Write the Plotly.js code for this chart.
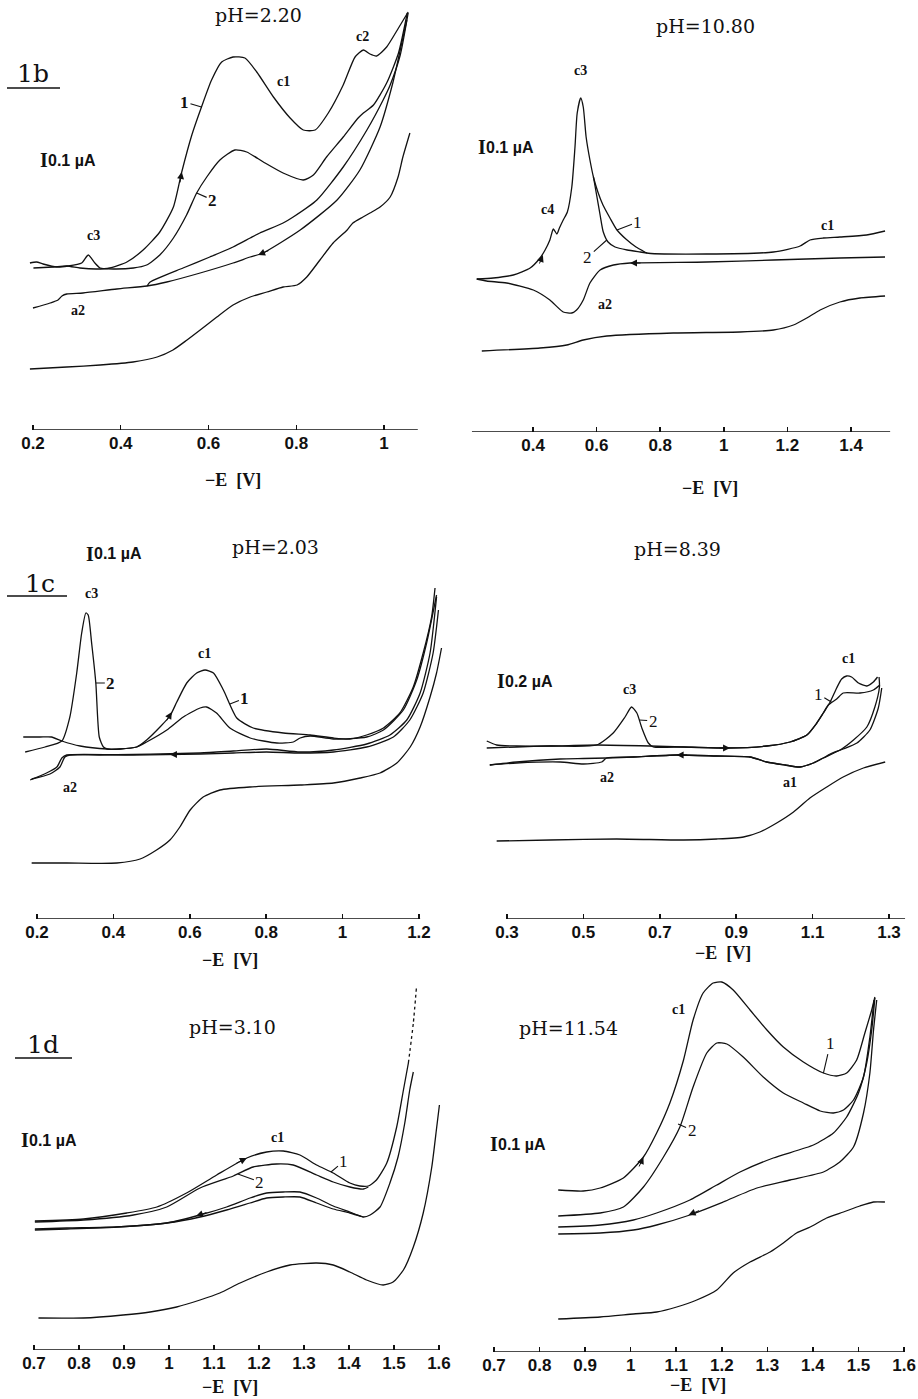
<!DOCTYPE html>
<html><head><meta charset="utf-8">
<script src="https://cdn.plot.ly/plotly-3.0.1.min.js"></script>
<style>html,body{margin:0;padding:0;background:#fff}#chart{width:918px;height:1399px}</style>
</head><body><div id="chart"></div>
<script>
// ---------- Panel 1b, pH = 2.20 ----------
const p1c1E=[0.201,0.246,0.277,0.307,0.345,0.375,0.414,0.451,0.489,0.520,0.539,0.562,0.584,0.607,0.630,0.656,0.683,0.710,0.748,0.786,0.816,0.843,0.873,0.907,0.934,0.953,0.968,0.983,1.006,1.033,1.055];
const p1c1I=[1.62,1.63,1.64,1.62,1.61,1.62,1.68,1.80,1.98,2.23,2.58,2.95,3.23,3.50,3.68,3.73,3.72,3.58,3.33,3.12,3.00,3.00,3.17,3.45,3.73,3.80,3.76,3.74,3.83,4.02,4.18];
const p1c2E=[0.193,0.208,0.223,0.254,0.280,0.311,0.326,0.341,0.353,0.383,0.429,0.459,0.489,0.520,0.550,0.573,0.596,0.626,0.660,0.687,0.725,0.770,0.816,0.839,0.869,0.907,0.941,0.953,0.976,1.006,1.033,1.053];
const p1c2I=[1.67,1.68,1.66,1.63,1.64,1.67,1.75,1.67,1.62,1.61,1.62,1.65,1.75,1.92,2.15,2.37,2.53,2.70,2.80,2.78,2.68,2.57,2.50,2.55,2.73,2.93,3.12,3.17,3.25,3.47,3.77,4.17];
const p1rAE=[1.055,1.037,1.014,0.998,0.961,0.907,0.847,0.793,0.770,0.717,0.695,0.656,0.603,0.542,0.467,0.460];
const p1rAI=[4.17,3.75,3.45,3.30,3.00,2.63,2.30,2.13,2.07,1.97,1.92,1.83,1.73,1.62,1.48,1.44];
const p1rBE=[1.052,1.032,1.020,0.991,0.945,0.893,0.809,0.724,0.695,0.656,0.581,0.505,0.460,0.391,0.314,0.277,0.266,0.257,0.239,0.200];
const p1rBI=[4.10,3.70,3.47,3.03,2.60,2.30,2.00,1.77,1.73,1.67,1.57,1.48,1.44,1.41,1.37,1.36,1.34,1.30,1.27,1.22];
const p1bE=[0.193,0.277,0.353,0.428,0.483,0.519,0.551,0.581,0.619,0.656,0.695,0.733,0.770,0.802,0.824,0.854,0.884,0.916,0.929,0.952,0.968,0.991,1.014,1.032,1.043,1.059];
const p1bI=[0.61,0.63,0.65,0.68,0.73,0.80,0.90,1.00,1.13,1.25,1.33,1.38,1.43,1.45,1.53,1.70,1.87,2.00,2.07,2.13,2.17,2.23,2.33,2.53,2.73,2.97];
const p1Ticks=[0.2,0.4,0.6,0.8,1];
const p1TickText=["0.2","0.4","0.6","0.8","1"];

// ---------- Panel pH = 10.80 ----------
const p2c1E=[0.223,0.275,0.338,0.391,0.422,0.438,0.453,0.464,0.475,0.483,0.495,0.508,0.522,0.532,0.539,0.550,0.558,0.567,0.579,0.590,0.604,0.620,0.642,0.664,0.692,0.724,0.746,0.758,0.946,1.156,1.240,1.271,1.313,1.365,1.449,1.507];
const p2c1I=[1.53,1.54,1.57,1.64,1.74,1.82,1.92,2.03,1.98,2.04,2.12,2.20,2.45,2.85,3.19,3.34,3.25,2.95,2.72,2.55,2.40,2.27,2.14,2.02,1.93,1.85,1.81,1.79,1.78,1.80,1.86,1.92,1.94,1.95,1.97,2.01];
const p2c2E=[0.590,0.600,0.611,0.621,0.636,0.658,0.696,0.737,0.758];
const p2c2I=[2.55,2.37,2.17,2.00,1.90,1.85,1.82,1.80,1.79];
const p2rE=[1.507,1.365,1.156,0.946,0.705,0.653,0.611,0.579,0.558,0.537,0.522,0.495,0.453,0.401,0.317,0.254,0.223];
const p2rI=[1.75,1.74,1.72,1.70,1.69,1.67,1.62,1.49,1.32,1.22,1.19,1.20,1.32,1.42,1.49,1.51,1.53];
const p2bE=[0.239,0.422,0.506,0.558,0.632,0.841,1.051,1.156,1.219,1.261,1.303,1.365,1.428,1.507];
const p2bI=[0.81,0.84,0.87,0.92,0.96,0.99,1.00,1.02,1.07,1.14,1.22,1.30,1.34,1.36];
const p2Ticks=[0.4,0.6,0.8,1,1.2,1.4];
const p2TickText=["0.4","0.6","0.8","1","1.2","1.4"];

// ---------- Panel 1c, pH = 2.03 ----------
const p3c1E=[0.164,0.208,0.238,0.265,0.313,0.384,0.417,0.461,0.487,0.522,0.548,0.566,0.592,0.618,0.640,0.662,0.688,0.723,0.766,0.845,0.915,0.976,1.019,1.063,1.107,1.150,1.185,1.211,1.233,1.242];
const p3c1I=[1.82,1.82,1.82,1.78,1.73,1.70,1.70,1.72,1.79,1.92,2.03,2.17,2.36,2.46,2.49,2.46,2.29,2.01,1.91,1.86,1.84,1.81,1.80,1.84,1.91,2.06,2.32,2.66,3.02,3.31];
const p3c2E=[0.169,0.221,0.265,0.286,0.304,0.317,0.328,0.334,0.343,0.354,0.363,0.374,0.384,0.417,0.461,0.487,0.540,0.583,0.627,0.644,0.670,0.705,0.758,0.828,0.871,0.889,0.915,0.976,1.063,1.107,1.159,1.194,1.220,1.246];
const p3c2I=[1.67,1.72,1.78,2.02,2.46,2.86,3.06,3.04,2.76,2.36,1.82,1.72,1.70,1.70,1.72,1.77,1.89,2.02,2.11,2.12,2.06,1.91,1.81,1.76,1.77,1.81,1.83,1.80,1.82,1.89,2.09,2.39,2.76,3.24];
const p3rAE=[1.251,1.237,1.211,1.176,1.133,1.063,0.976,0.889,0.801,0.714,0.627,0.452,0.278,0.265,0.252,0.225,0.182];
const p3rAI=[3.09,2.66,2.26,1.99,1.82,1.72,1.67,1.66,1.67,1.66,1.65,1.64,1.64,1.61,1.52,1.46,1.39];
const p3rBE=[1.246,1.229,1.203,1.168,1.124,1.063,0.976,0.889,0.801,0.714,0.627,0.365,0.286,0.273,0.260,0.234,0.186];
const p3rBI=[3.22,2.66,2.26,1.99,1.84,1.75,1.69,1.67,1.70,1.68,1.66,1.64,1.64,1.62,1.52,1.45,1.40];
const p3bE=[0.186,0.278,0.409,0.470,0.513,0.548,0.574,0.601,0.635,0.679,0.758,0.889,0.976,1.046,1.098,1.142,1.177,1.203,1.229,1.246,1.259];
const p3bI=[0.56,0.56,0.56,0.60,0.69,0.79,0.92,1.09,1.22,1.29,1.32,1.34,1.36,1.41,1.46,1.56,1.72,1.92,2.22,2.46,2.71];
const p3Ticks=[0.2,0.4,0.6,0.8,1,1.2];
const p3TickText=["0.2","0.4","0.6","0.8","1","1.2"];

// ---------- Panel pH = 8.39 ----------
const p4c1E=[0.247,0.273,0.325,0.413,0.535,0.674,0.762,0.875,0.980,1.041,1.085,1.111,1.128,1.146,1.163,1.176,1.189,1.202,1.220,1.242,1.259,1.270];
const p4c1I=[1.78,1.74,1.73,1.73,1.74,1.73,1.72,1.71,1.73,1.77,1.84,1.96,2.06,2.17,2.31,2.40,2.43,2.42,2.36,2.33,2.37,2.42];
const p4c2E=[0.247,0.325,0.413,0.535,0.578,0.609,0.626,0.640,0.653,0.670,0.683,0.762,0.875,0.980,1.041,1.085,1.111,1.128,1.141,1.163,1.180,1.224,1.259,1.276];
const p4c2I=[1.71,1.72,1.73,1.74,1.86,2.02,2.12,2.06,1.91,1.76,1.72,1.72,1.71,1.73,1.77,1.84,1.96,2.06,2.14,2.20,2.26,2.26,2.29,2.34];
const p4rAE=[1.274,1.275,1.263,1.242,1.207,1.172,1.128,1.102,1.067,1.028,0.980,0.936,0.849,0.744,0.631,0.561,0.500,0.439,0.325,0.255];
const p4rAI=[2.42,2.32,2.12,1.92,1.79,1.69,1.61,1.56,1.52,1.54,1.57,1.62,1.63,1.64,1.62,1.61,1.605,1.60,1.57,1.54];
const p4rBE=[1.281,1.272,1.250,1.216,1.180,1.146,1.128,1.102,1.067,1.028,0.980,0.936,0.849,0.744,0.631,0.561,0.548,0.500,0.439,0.325,0.255];
const p4rBI=[2.31,2.11,1.89,1.76,1.70,1.65,1.61,1.56,1.52,1.54,1.57,1.62,1.63,1.64,1.62,1.61,1.57,1.55,1.57,1.56,1.54];
const p4bE=[0.273,0.413,0.587,0.762,0.849,0.919,0.962,1.006,1.050,1.093,1.137,1.180,1.233,1.290];
const p4bI=[0.78,0.79,0.80,0.79,0.80,0.82,0.87,0.96,1.07,1.21,1.32,1.42,1.51,1.57];
const p4Ticks=[0.3,0.5,0.7,0.9,1.1,1.3];
const p4TickText=["0.3","0.5","0.7","0.9","1.1","1.3"];

// ---------- Panel 1d, pH = 3.10 ----------
const p5c1E=[0.702,0.810,0.906,0.973,1.039,1.106,1.173,1.217,1.254,1.291,1.328,1.365,1.402,1.424,1.443,1.461,1.484,1.506,1.521,1.532];
const p5c1I=[1.29,1.31,1.37,1.43,1.57,1.75,1.92,1.98,1.99,1.95,1.85,1.77,1.67,1.64,1.64,1.70,1.87,2.23,2.60,2.87];
const p5dotE=[1.532,1.543,1.550];
const p5dotI=[2.87,3.27,3.63];
const p5c2E=[0.702,0.810,0.921,0.995,1.069,1.143,1.187,1.239,1.276,1.328,1.365,1.402,1.432,1.443];
const p5c2I=[1.28,1.30,1.35,1.43,1.62,1.74,1.83,1.86,1.85,1.75,1.68,1.63,1.61,1.63];
const p5rUE=[1.543,1.535,1.524,1.509,1.491,1.469,1.447,1.432,1.402,1.365,1.328,1.291,1.254,1.217,1.180,1.128,1.069,0.995,0.884,0.773,0.702];
const p5rUI=[2.78,2.60,2.27,1.93,1.67,1.43,1.35,1.33,1.38,1.44,1.52,1.58,1.58,1.57,1.52,1.43,1.35,1.27,1.23,1.22,1.21];
const p5rLE=[1.432,1.402,1.365,1.328,1.291,1.254,1.217,1.180,1.128,1.069,0.995,0.884,0.773,0.702];
const p5rLI=[1.33,1.37,1.41,1.47,1.53,1.53,1.52,1.47,1.40,1.33,1.27,1.23,1.21,1.20];
const p5bE=[0.710,0.810,0.898,0.958,1.017,1.069,1.113,1.158,1.217,1.269,1.328,1.365,1.402,1.439,1.476,1.498,1.521,1.543,1.565,1.584,1.595,1.601];
const p5bI=[0.32,0.32,0.35,0.38,0.43,0.50,0.57,0.67,0.78,0.85,0.87,0.85,0.78,0.70,0.65,0.68,0.80,1.03,1.37,1.83,2.23,2.45];
const p5Ticks=[0.7,0.8,0.9,1,1.1,1.2,1.3,1.4,1.5,1.6];
const p5TickText=["0.7","0.8","0.9","1","1.1","1.2","1.3","1.4","1.5","1.6"];

// ---------- Panel pH = 11.54 ----------
const p6c1E=[0.841,0.896,0.933,0.984,1.028,1.057,1.086,1.116,1.137,1.159,1.181,1.200,1.225,1.262,1.299,1.335,1.379,1.423,1.452,1.474,1.496,1.514,1.529,1.536];
const p6c1I=[1.62,1.61,1.64,1.74,1.95,2.19,2.49,2.92,3.32,3.59,3.69,3.70,3.62,3.42,3.22,3.05,2.90,2.79,2.76,2.79,2.92,3.19,3.42,3.55];
const p6c2E=[0.841,0.933,0.984,1.028,1.072,1.108,1.137,1.167,1.189,1.211,1.247,1.291,1.335,1.379,1.416,1.445,1.467,1.489,1.511,1.525,1.534];
const p6c2I=[1.36,1.39,1.45,1.65,1.95,2.25,2.65,2.99,3.09,3.08,2.95,2.75,2.59,2.49,2.41,2.39,2.42,2.52,2.75,3.15,3.52];
const p6rAE=[1.536,1.529,1.518,1.500,1.474,1.445,1.401,1.313,1.240,1.189,1.130,1.057,1.006,0.933,0.841];
const p6rAI=[3.54,3.22,2.89,2.59,2.35,2.19,2.07,1.94,1.80,1.67,1.52,1.39,1.32,1.27,1.25];
const p6rBE=[1.540,1.533,1.525,1.511,1.489,1.459,1.423,1.350,1.277,1.203,1.130,1.057,1.006,0.933,0.841];
const p6rBI=[3.52,3.22,2.79,2.39,2.05,1.90,1.80,1.72,1.64,1.50,1.37,1.27,1.22,1.19,1.18];
const p6bE=[0.841,0.933,1.006,1.057,1.101,1.145,1.189,1.225,1.262,1.306,1.335,1.364,1.394,1.430,1.467,1.503,1.533,1.558];
const p6bI=[0.33,0.35,0.38,0.40,0.45,0.52,0.62,0.79,0.90,1.00,1.09,1.19,1.25,1.34,1.40,1.46,1.50,1.50];
const p6Ticks=[0.7,0.8,0.9,1,1.1,1.2,1.3,1.4,1.5,1.6];
const p6TickText=["0.7","0.8","0.9","1","1.1","1.2","1.3","1.4","1.5","1.6"];

// ---------- drawing ----------
const W=918, H=1399;
const INK='#111';
const fx=x=>x/W, fy=y=>1-y/H;
const traces=[];
function line(E,I,n,dash){
  traces.push({x:E,y:I,type:'scatter',mode:'lines',xaxis:'x'+(n===1?'':n),yaxis:'y'+(n===1?'':n),
    line:{color:INK,width:1.3,shape:'spline',smoothing:0.6,dash:dash||'solid'},hoverinfo:'skip',showlegend:false});
}
line(p1c1E,p1c1I,1);line(p1c2E,p1c2I,1);line(p1rAE,p1rAI,1);line(p1rBE,p1rBI,1);line(p1bE,p1bI,1);
line(p2c1E,p2c1I,2);line(p2c2E,p2c2I,2);line(p2rE,p2rI,2);line(p2bE,p2bI,2);
line(p3c1E,p3c1I,3);line(p3c2E,p3c2I,3);line(p3rAE,p3rAI,3);line(p3rBE,p3rBI,3);line(p3bE,p3bI,3);
line(p4c1E,p4c1I,4);line(p4c2E,p4c2I,4);line(p4rAE,p4rAI,4);line(p4rBE,p4rBI,4);line(p4bE,p4bI,4);
line(p5c1E,p5c1I,5);line(p5dotE,p5dotI,5,'dot');line(p5c2E,p5c2I,5);line(p5rUE,p5rUI,5);line(p5rLE,p5rLI,5);line(p5bE,p5bI,5);
line(p6c1E,p6c1I,6);line(p6c2E,p6c2I,6);line(p6rAE,p6rAI,6);line(p6rBE,p6rBI,6);line(p6bE,p6bI,6);

const panels=[
 {L:20,R:430,B:430,T:0,  r:[0.1704,1.1048],tv:p1Ticks,tt:p1TickText,ax:[0.2,1.077]},
 {L:460,R:910,B:432,T:0, r:[0.1704,1.5855],tv:p2Ticks,tt:p2TickText,ax:[0.208,1.523]},
 {L:20,R:450,B:919,T:520,r:[0.1555,1.2812],tv:p3Ticks,tt:p3TickText,ax:[0.2,1.203]},
 {L:460,R:918,B:919,T:520,r:[0.1770,1.3759],tv:p4Ticks,tt:p4TickText,ax:[0.3,1.342]},
 {L:10,R:455,B:1350,T:975,r:[0.6467,1.6356],tv:p5Ticks,tt:p5TickText,ax:[0.7,1.6]},
 {L:460,R:918,B:1352,T:975,r:[0.6254,1.6306],tv:p6Ticks,tt:p6TickText,ax:[0.7,1.602]}
];
const layout={width:W,height:H,margin:{l:0,r:0,t:0,b:0},paper_bgcolor:'#fff',plot_bgcolor:'rgba(0,0,0,0)',
  showlegend:false,shapes:[],annotations:[]};
panels.forEach((p,i)=>{
  const n=i+1, s=(n===1?'':n);
  layout['xaxis'+s]={domain:[fx(p.L),fx(p.R)],range:p.r,anchor:'y'+s,showgrid:false,zeroline:false,showline:false,
    ticks:'inside',ticklen:5,tickwidth:1.5,tickcolor:INK,tickmode:'array',tickvals:p.tv,ticktext:p.tt,
    tickfont:{family:'Liberation Sans, Arial, sans-serif',size:17,color:INK,weight:'bold'},ticklabelstandoff:1,fixedrange:true};
  layout['yaxis'+s]={domain:[fy(p.B),fy(p.T)],range:[0,(p.B-p.T)/100],anchor:'x'+s,visible:false,fixedrange:true};
  layout.shapes.push({type:'line',xref:'x'+s,yref:'y'+s,x0:p.ax[0],x1:p.ax[1],y0:0,y1:0,line:{color:INK,width:1.6}});
});

function T(x,y,t,size,fam,bold,anchor){
  layout.annotations.push({xref:'paper',yref:'paper',x:fx(x),y:fy(y),text:t,showarrow:false,
    xanchor:anchor||'center',yanchor:'middle',font:{family:fam,size:size,color:INK,weight:bold?'bold':'normal'}});
}
const SERIF='Liberation Serif, Times New Roman, serif';
const DSERIF='DejaVu Serif, serif';
const SANS='Liberation Sans, Arial, sans-serif';
function pH(x,y,t){T(x,y,t,19,DSERIF,false);}
function small(x,y,t){T(x,y,t,14,SERIF,true);}
function axTitle(x,y){T(x,y,'\u2212E&nbsp;&nbsp;[V]',18,SERIF,true);}
function scale(x,y,t){T(x,y,'I',20,SERIF,true,'left'); T(x+8,y,t,16,SANS,true,'left');}
function big(x,y,t,x0,x1,uy){T(x,y,t,25,DSERIF,false);
  layout.shapes.push({type:'line',xref:'paper',yref:'paper',x0:fx(x0),x1:fx(x1),y0:fy(uy),y1:fy(uy),line:{color:INK,width:1.6}});}

pH(258,15,'pH=2.20'); big(33,74,'1b',7,60,88); scale(38,160,'0.1 \u00b5A');
small(283,82,'c1'); small(362,36,'c2'); small(93,236,'c3'); small(78,310,'a2'); axTitle(233,480);
pH(705,26,'pH=10.80'); scale(476,147,'0.1 \u00b5A');
small(580,70,'c3'); small(547,209,'c4'); small(827,226,'c1'); small(605,304,'a2'); axTitle(710,488);
pH(275,547,'pH=2.03'); big(40,583,'1c',7,67,596); scale(84,554,'0.1 \u00b5A');
small(91,593,'c3'); small(204,653,'c1'); small(70,787,'a2'); axTitle(230,960);
pH(677,549,'pH=8.39'); scale(495,681,'0.2 \u00b5A');
small(629,689,'c3'); small(848,658,'c1'); small(607,778,'a2'); small(790,782,'a1'); axTitle(723,953);
pH(232,1027,'pH=3.10'); big(43,1044,'1d',15,72,1058); scale(19,1140,'0.1 \u00b5A');
small(277,1137,'c1'); axTitle(230,1387);
pH(568,1028,'pH=11.54'); scale(488,1144,'0.1 \u00b5A');
small(678,1009,'c1'); axTitle(698,1385);

function lab(n,E,I,t,ax,ay,bold){
  const s=(n===1?'':n);
  layout.annotations.push({xref:'x'+s,yref:'y'+s,x:E,y:I,text:t,showarrow:true,arrowhead:0,arrowwidth:1.1,arrowcolor:INK,
    ax:ax,ay:ay,standoff:0,font:{family:SERIF,size:17,color:INK,weight:bold?'bold':'normal'}});
}
lab(1,0.584,3.23,'1',-17,-5,true); lab(1,0.573,2.37,'2',16,7,true);
lab(2,0.664,2.02,'1',21,-8); lab(2,0.632,1.92,'2',-19,17);
lab(3,0.354,2.36,'2',15,0,true); lab(3,0.705,2.15,'1',15,-6,true);
lab(4,0.646,1.99,'2',14,1); lab(4,1.149,2.17,'1',-13,-8);
lab(5,1.360,1.78,'1',13,-11); lab(5,1.153,1.76,'2',22,8);
lab(6,1.423,2.79,'1',7,-30); lab(6,1.104,2.28,'2',14,6);

function arr(n,E,I,ax,ay){
  const s=(n===1?'':n);
  layout.annotations.push({xref:'x'+s,yref:'y'+s,x:E,y:I,text:'',showarrow:true,arrowhead:2,arrowsize:1.4,
    arrowwidth:1,arrowcolor:INK,ax:ax,ay:ay,standoff:0});
}
arr(1,0.539,2.58,-2,12); arr(1,0.713,1.75,12,-5);
arr(2,0.431,1.77,-4,10); arr(2,0.705,1.69,12,0);
arr(3,0.553,2.07,-6,10); arr(3,0.548,1.645,12,0);
arr(4,0.884,1.71,-12,0); arr(4,0.744,1.64,12,0);
arr(5,1.173,1.92,-12,6); arr(5,1.060,1.34,12,-4);
arr(6,1.028,1.95,-5,11); arr(6,1.127,1.37,12,-5);

Plotly.newPlot('chart',traces,layout,{staticPlot:true,displayModeBar:false});
</script></body></html>
